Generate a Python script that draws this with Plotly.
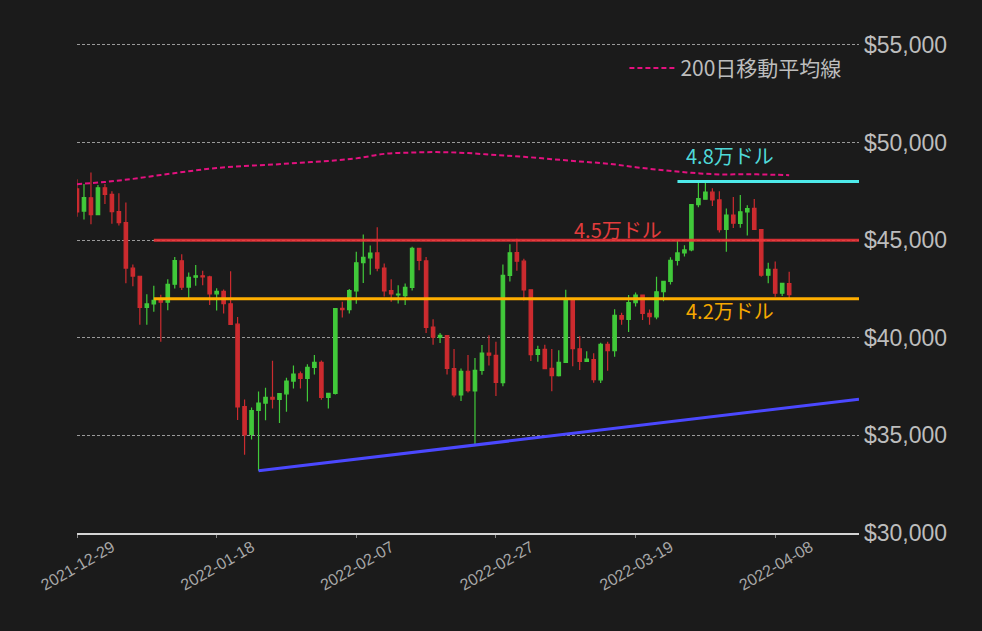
import pandas as pd
import plotly.graph_objects as go

# ---------------- data ----------------
start_date = "2021-12-29"
end_date = "2022-04-10"
dates = pd.date_range(start_date, end_date, freq="D")

opens = [47623, 46490, 47169, 46311, 47681, 47344, 46459, 45899, 43565, 43153,
         41562, 41732, 41911, 41820, 42742, 43947, 42599, 43102, 43172, 43119,
         42250, 42375, 41744, 40699, 36471, 35048, 36276, 36654, 36950, 36841,
         37128, 37780, 38152, 37920, 38481, 38743, 36944, 37149, 41502, 41441,
         42406, 43854, 44097, 44348, 43571, 42412, 42197, 42157, 42586, 44578,
         43937, 40553, 40023, 40118, 38424, 37069, 38285, 37279, 38334, 39214,
         39098, 37707, 43195, 44357, 43925, 42458, 39149, 39404, 38430, 38059,
         38742, 41975, 39439, 38794, 38885, 37846, 39664, 39336, 41140, 40944,
         41795, 42192, 41246, 41074, 42364, 42886, 43964, 44349, 44505, 46821,
         47100, 47457, 47063, 45554, 46285, 45859, 46445, 46625, 45545, 43208,
         43505, 42282, 42781]
highs = [48119, 47879, 48472, 47827, 47881, 47510, 47406, 46929, 43748, 43153,
         42228, 42663, 42199, 43001, 44135, 44278, 43346, 43724, 43436, 43179,
         42534, 42478, 43413, 41060, 36836, 36434, 37247, 37444, 38825, 37148,
         37952, 38576, 38267, 38647, 39115, 38834, 37154, 41527, 41847, 42500,
         44401, 45293, 44727, 45661, 43810, 42992, 42695, 42775, 44667, 44578,
         44132, 40946, 40246, 40119, 39430, 38432, 39122, 38968, 39630, 40130,
         39794, 43760, 44794, 45077, 44053, 42479, 39594, 39640, 39430, 39362,
         42465, 42004, 40081, 39308, 39210, 39742, 39794, 41465, 41287, 42195,
         42316, 42204, 41454, 43124, 42893, 44131, 44999, 44735, 46827, 48086,
         48022, 47655, 47512, 46616, 47213, 47313, 46791, 47107, 45545, 43840,
         43903, 42774, 43376]
lows = [46201, 46060, 45819, 46288, 46856, 45835, 45752, 42798, 42645, 40672,
        40672, 41338, 39796, 41407, 42528, 42447, 41982, 42670, 42691, 41680,
        41392, 41242, 40672, 35792, 34009, 34784, 33184, 35779, 36375, 35629,
        36211, 37406, 37404, 36733, 38113, 36832, 36375, 37094, 41038, 41244,
        41748, 42807, 43232, 43402, 42114, 41852, 41751, 41681, 42427, 43456,
        40249, 39637, 39730, 38113, 36950, 36763, 37201, 34459, 38111, 38585,
        37018, 37518, 42886, 43433, 41914, 38805, 38777, 38404, 37260, 38022,
        38706, 38539, 38347, 38772, 37698, 37680, 38310, 39022, 40663, 40302,
        41602, 40917, 40668, 40948, 41877, 42726, 43706, 44166, 44437, 46690,
        47100, 46746, 45390, 44403, 45620, 45634, 45235, 45544, 43120, 42791,
        42107, 42135, 42021]
closes = [46444, 47178, 46306, 47686, 47345, 46458, 45897, 43569, 43160, 41558,
          41734, 41911, 41822, 42736, 43949, 42592, 43099, 43177, 43114, 42250,
          42375, 41744, 40681, 36457, 35030, 36276, 36654, 36954, 36852, 37138,
          37784, 38138, 37917, 38483, 38743, 36952, 37154, 41501, 41441, 42412,
          43841, 44118, 44339, 43566, 42407, 42244, 42236, 42586, 44575, 43961,
          40538, 40030, 40122, 38431, 37075, 38286, 37296, 38332, 39214, 39105,
          37710, 43194, 44354, 43925, 42452, 39137, 39400, 38420, 38062, 38737,
          41983, 39437, 38795, 38904, 37849, 39666, 39338, 41143, 40951, 41801,
          42190, 41247, 41077, 42358, 42893, 43960, 44349, 44500, 46821, 47128,
          47465, 47063, 45539, 46282, 45868, 46453, 46623, 45555, 43207, 43503,
          42287, 42782, 42207]

# 200-day moving average, every few days
ma_dates = ["2021-12-29", "2022-01-02", "2022-01-06", "2022-01-10", "2022-01-14",
            "2022-01-18", "2022-01-22", "2022-01-26", "2022-01-30", "2022-02-03",
            "2022-02-07", "2022-02-11", "2022-02-15", "2022-02-19", "2022-02-23",
            "2022-02-27", "2022-03-03", "2022-03-07", "2022-03-11", "2022-03-15",
            "2022-03-19", "2022-03-23", "2022-03-27", "2022-03-31", "2022-04-04",
            "2022-04-08", "2022-04-10"]
ma_values = [47870, 47980, 48140, 48340, 48530, 48700, 48800, 48870, 48970, 49060,
             49190, 49420, 49490, 49510, 49460, 49360, 49270, 49150, 49030, 48920,
             48740, 48580, 48450, 48370, 48380, 48350, 48330]
ma_name = "200日移動平均線"

# horizontal price levels
level_values = [48000, 45000, 42000]
level_starts = ["2022-03-25", "2022-01-09", "2022-01-09"]
level_end = "2022-04-20"
level_labels = ["4.8万ドル", "4.5万ドル", "4.2万ドル"]

# support trend line
trend_dates = ["2022-01-24", "2022-04-20"]
trend_values = [33184, 36850]

x_range = ["2021-12-29", "2022-04-20"]
y_range = [30000, 55100]
x_tick_dates = ["2021-12-29", "2022-01-18", "2022-02-07", "2022-02-27",
                "2022-03-19", "2022-04-08"]
y_tick_values = [30000, 35000, 40000, 45000, 50000, 55000]
y_tick_labels = ["$30,000", "$35,000", "$40,000", "$45,000", "$50,000", "$55,000"]

# ---------------- style ----------------
BG = "#1b1b1b"
GREEN = "#41c93a"
RED = "#cc2b2f"
FONT = "Noto Sans CJK JP"
LATIN = "Liberation Sans"
level_line_colors = ["#4eeaea", "rgba(240,50,55,0.88)", "#ffae00"]
level_text_colors = ["#4fd8d8", "#e23c3c", "#f5a800"]

fig = go.Figure()

fig.add_trace(go.Candlestick(
    x=dates, open=opens, high=highs, low=lows, close=closes,
    increasing=dict(line=dict(color=GREEN, width=1.2), fillcolor=GREEN),
    decreasing=dict(line=dict(color=RED, width=1.2), fillcolor=RED),
    whiskerwidth=0, showlegend=False, hoverinfo="skip",
))

for val, x0, col in zip(level_values, level_starts, level_line_colors):
    fig.add_trace(go.Scatter(
        x=[x0, level_end], y=[val, val], mode="lines",
        line=dict(color=col, width=3), showlegend=False, hoverinfo="skip",
    ))

fig.add_trace(go.Scatter(
    x=trend_dates, y=trend_values, mode="lines",
    line=dict(color="#4b48ff", width=3), showlegend=False, hoverinfo="skip",
))

fig.add_trace(go.Scatter(
    x=ma_dates, y=ma_values, mode="lines", name=ma_name,
    line=dict(color="#e3117f", width=2, dash="5px,3px", shape="spline"),
    hoverinfo="skip",
))

# level labels
fig.add_annotation(x="2022-03-26", y=level_values[0], xref="x", yref="y",
                   text=level_labels[0], showarrow=False, xanchor="left",
                   yanchor="bottom", yshift=10,
                   font=dict(family=FONT, size=20, color=level_text_colors[0]))
fig.add_annotation(x="2022-03-23", y=level_values[1], xref="x", yref="y",
                   text=level_labels[1], showarrow=False, xanchor="right",
                   yanchor="bottom", yshift=-6,
                   font=dict(family=FONT, size=20, color=level_text_colors[1]))
fig.add_annotation(x="2022-03-26", y=level_values[2], xref="x", yref="y",
                   text=level_labels[2], showarrow=False, xanchor="left",
                   yanchor="top", yshift=5,
                   font=dict(family=FONT, size=20, color=level_text_colors[2]))

fig.update_layout(
    width=982, height=631, autosize=False,
    margin=dict(l=77, r=123, t=43, b=98),
    paper_bgcolor=BG, plot_bgcolor=BG,
    font=dict(family=FONT, color="#bdbdbd"),
    showlegend=True,
    legend=dict(x=0.70, y=0.99, xanchor="left", yanchor="top",
                bgcolor="rgba(0,0,0,0)", itemwidth=46,
                font=dict(family=FONT, size=21, color="#bdbdbd")),
    xaxis=dict(
        type="date", range=x_range, tickvals=x_tick_dates,
        tickformat="%Y-%m-%d", tickangle=-30,
        tickfont=dict(family=LATIN, size=16, color="#a8a8a8"),
        showgrid=False, zeroline=False,
        showline=True, linecolor="#d4d4d4", linewidth=2,
        ticks="outside", ticklen=3, tickcolor="#888888",
        rangeslider=dict(visible=False), ticklabelshift=35,
        ticklabelstandoff=-6,
    ),
    yaxis=dict(
        side="right", range=y_range,
        tickmode="array", tickvals=y_tick_values, ticktext=y_tick_labels,
        tickfont=dict(family=LATIN, size=23, color="#bdbdbd"),
        showgrid=True, gridcolor="#9a9a9a", griddash="3px,2px", gridwidth=1,
        zeroline=False, showline=False, ticks="", ticklabelstandoff=4,
    ),
)

fig.write_html(
    "out.html",
    config={"displayModeBar": False},
    post_script="document.body.style.margin='0';document.body.style.background='#1b1b1b';",
)
